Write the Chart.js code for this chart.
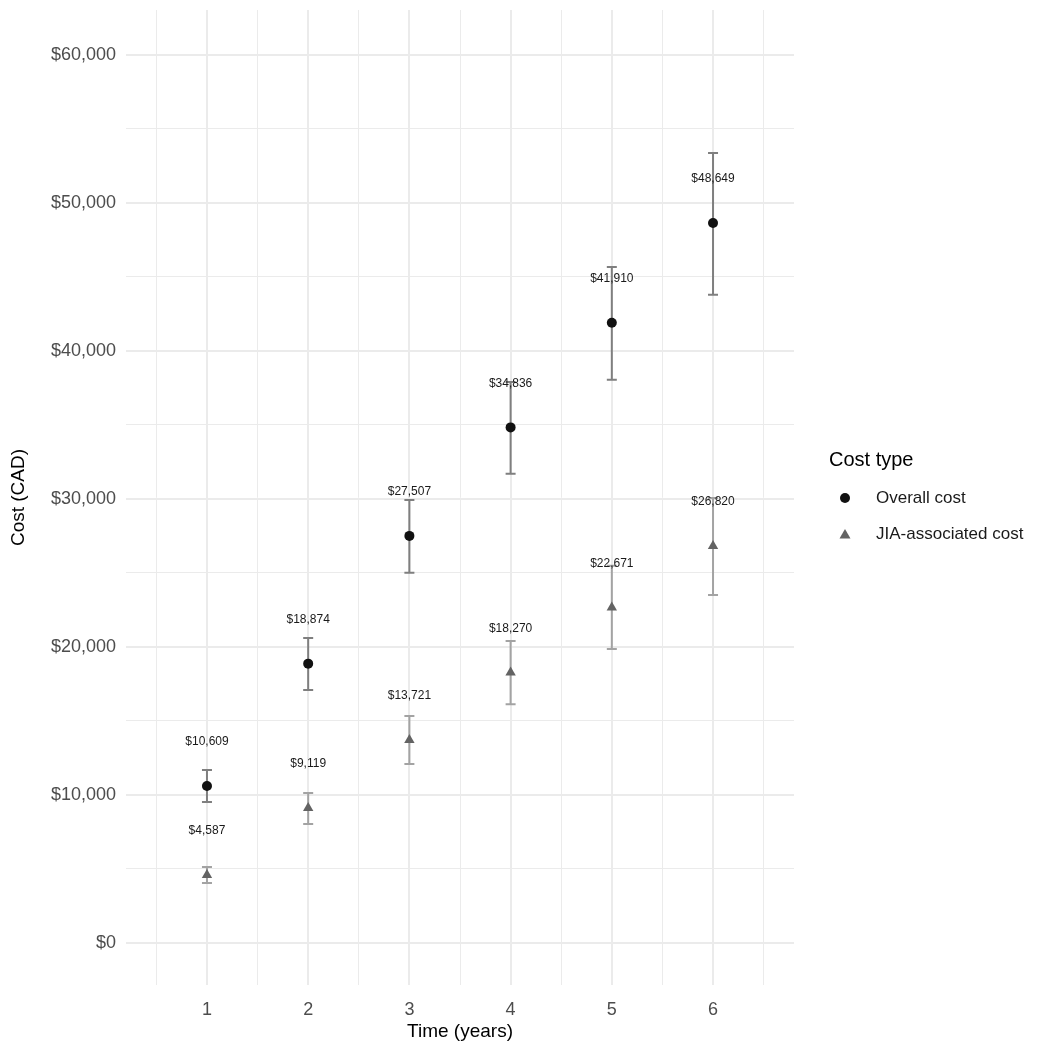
<!DOCTYPE html>
<html>
<head>
<meta charset="utf-8">
<script src="https://cdn.jsdelivr.net/npm/chart.js@4.4.1/dist/chart.umd.min.js"></script>
<style>
  html, body { margin: 0; padding: 0; background: #fff; }
  #wrap { width: 1037px; height: 1045px; }
</style>
</head>
<body>
<div id="wrap"><canvas id="chart" width="1037" height="1045"></canvas></div>
<script>
/* ---------- DATA ---------- */

const years = [1, 2, 3, 4, 5, 6];

const overallCost = [10609, 18874, 27507, 34836, 41910, 48649];
const overallLow  = [9530, 17100, 25020, 31700, 38050, 43800];
const overallHigh = [11690, 20600, 29930, 37900, 45680, 53380];

const jiaCost = [4587, 9119, 13721, 18270, 22671, 26820];
const jiaLow  = [4050, 8040, 12100, 16130, 19870, 23520];
const jiaHigh = [5130, 10140, 15340, 20410, 25480, 30070];

const yTicks = [0, 5000, 10000, 15000, 20000, 25000, 30000, 35000, 40000, 45000, 50000, 55000, 60000];
const xTicks = [0.5, 1, 1.5, 2, 2.5, 3, 3.5, 4, 4.5, 5, 5.5, 6, 6.5];

const seriesNames = ["Overall cost", "JIA-associated cost"];

/* ---------- HELPERS ---------- */

const FONT = "'Liberation Sans', Arial, Helvetica, sans-serif";
const fmt = v => "$" + Math.round(v).toLocaleString("en-US");

const series = [
  { label: seriesNames[0], cost: overallCost, low: overallLow, high: overallHigh,
    color: "#111111", barColor: "#7f7f7f", style: "circle", radius: 5 },
  { label: seriesNames[1], cost: jiaCost, low: jiaLow, high: jiaHigh,
    color: "#636363", barColor: "#a3a3a3", style: "triangle", radius: 6 }
];

/* ---------- PLUGIN: ERROR BARS + VALUE LABELS ---------- */

const errorBars = {
  id: "errorBars",
  beforeDatasetsDraw(chart) {
    const { ctx, scales: { x, y } } = chart;
    ctx.save();
    series.forEach(s => {
      ctx.strokeStyle = s.barColor;
      ctx.lineWidth = 2;
      years.forEach((yr, i) => {
        const px = x.getPixelForValue(yr);
        const top = y.getPixelForValue(s.high[i]);
        const bot = y.getPixelForValue(s.low[i]);
        ctx.beginPath();
        ctx.moveTo(px, top); ctx.lineTo(px, bot);
        ctx.moveTo(px - 5, top); ctx.lineTo(px + 5, top);
        ctx.moveTo(px - 5, bot); ctx.lineTo(px + 5, bot);
        ctx.stroke();
      });
    });
    ctx.restore();
  },
  afterDatasetsDraw(chart) {
    const { ctx, scales: { x, y } } = chart;
    ctx.save();
    ctx.font = "12px " + FONT;
    ctx.fillStyle = "#1a1a1a";
    ctx.textAlign = "center";
    ctx.textBaseline = "middle";
    series.forEach(s => {
      years.forEach((yr, i) => {
        // labels sit ~3000 above the point
        ctx.fillText(fmt(s.cost[i]), x.getPixelForValue(yr), y.getPixelForValue(s.cost[i]) - 44);
      });
    });
    ctx.restore();
  }
};

/* ---------- PLUGIN: LEGEND ---------- */

const sideLegend = {
  id: "sideLegend",
  afterDraw(chart) {
    const { ctx, chartArea } = chart;
    const left = chartArea.right + 35;
    ctx.save();
    ctx.textAlign = "left";
    ctx.textBaseline = "middle";
    ctx.fillStyle = "#000";
    ctx.font = "20px " + FONT;
    ctx.fillText("Cost type", left, 460);
    ctx.font = "17px " + FONT;
    series.forEach((s, i) => {
      const cy = 498 + i * 36;
      ctx.fillStyle = s.color;
      ctx.beginPath();
      if (s.style === "circle") {
        ctx.arc(left + 16, cy, 5, 0, Math.PI * 2);
      } else {
        ctx.moveTo(left + 16, cy - 5);
        ctx.lineTo(left + 21.5, cy + 4.5);
        ctx.lineTo(left + 10.5, cy + 4.5);
        ctx.closePath();
      }
      ctx.fill();
      ctx.fillStyle = "#1a1a1a";
      ctx.fillText(s.label, left + 47, cy);
    });
    ctx.restore();
  }
};

/* ---------- CHART ---------- */

new Chart(document.getElementById("chart"), {
  type: "scatter",
  data: {
    datasets: series.map(s => ({
      label: s.label,
      data: years.map((yr, i) => ({ x: yr, y: s.cost[i] })),
      pointStyle: s.style,
      pointRadius: s.radius,
      pointBackgroundColor: s.color,
      pointBorderColor: s.color,
      pointBorderWidth: 0,
      pointHoverRadius: s.radius
    }))
  },
  options: {
    responsive: false,
    animation: false,
    layout: { padding: { top: 10, right: 243, left: 0, bottom: 0 } },
    plugins: {
      legend: { display: false },
      tooltip: { enabled: false }
    },
    scales: {
      x: {
        type: "linear",
        min: 0.2,
        max: 6.8,
        afterBuildTicks(scale) {
          scale.ticks = xTicks.map(v => ({ value: v, major: Number.isInteger(v) }));
        },
        afterFit(scale) {
          scale.height = 60;
          scale.paddingLeft = 0;
          scale.paddingRight = 0;
        },
        border: { display: false },
        grid: {
          color: "#ebebeb",
          lineWidth: c => (c.tick && Number.isInteger(c.tick.value)) ? 2 : 1,
          drawTicks: false
        },
        ticks: {
          autoSkip: false,
          maxRotation: 0,
          padding: 14,
          color: "#4d4d4d",
          font: { family: FONT, size: 18 },
          callback: v => Number.isInteger(v) ? String(v) : ""
        },
        title: {
          display: true,
          text: "Time (years)",
          color: "#000",
          font: { family: FONT, size: 19 },
          padding: { top: 0, bottom: 2 }
        }
      },
      y: {
        min: -2840,
        max: 63040,
        afterBuildTicks(scale) {
          scale.ticks = yTicks.map(v => ({ value: v, major: v % 10000 === 0 }));
        },
        afterFit(scale) {
          scale.width = 126;
          scale.paddingTop = 0;
          scale.paddingBottom = 0;
        },
        border: { display: false },
        grid: {
          color: "#ebebeb",
          lineWidth: c => (c.tick && c.tick.value % 10000 === 0) ? 2 : 1,
          drawTicks: false
        },
        ticks: {
          autoSkip: false,
          padding: 10,
          color: "#4d4d4d",
          font: { family: FONT, size: 18 },
          callback: v => v % 10000 === 0 ? fmt(v) : ""
        },
        title: {
          display: true,
          text: "Cost (CAD)",
          color: "#000",
          font: { family: FONT, size: 19 },
          padding: { top: 7, bottom: 0 }
        }
      }
    }
  },
  plugins: [errorBars, sideLegend]
});
</script>
</body>
</html>
